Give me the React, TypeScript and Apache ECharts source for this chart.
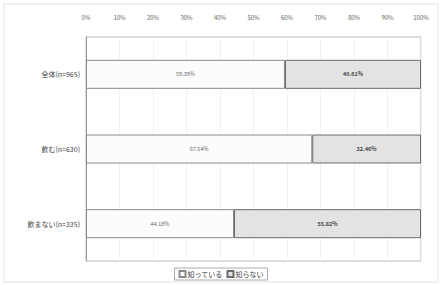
import React, { useEffect, useRef } from "react";
import * as echarts from "echarts";

const categories = ["全体(n=965)", "飲む(n=630)", "飲まない(n=335)"];
const knowValues = [59.39, 67.54, 44.18];
const notKnowValues = [40.61, 32.46, 55.82];
const seriesNames = ["知っている", "知らない"];

export default function App() {
  const ref = useRef<HTMLDivElement>(null);
  useEffect(() => {
    if (!ref.current) return;
    const chart = echarts.init(ref.current, null, { renderer: "svg" });
    const font = "'Noto Sans CJK JP', 'Noto Sans', sans-serif";
    chart.setOption({
      animation: false,
      backgroundColor: "#ffffff",
      textStyle: { fontFamily: font },
      graphic: [
        {
          type: "rect",
          shape: { x: 4, y: 4, width: 434, height: 278 },
          style: { fill: "none", stroke: "#e2e2e2", lineWidth: 1 },
          silent: true,
        },
      ],
      grid: {
        left: 86,
        right: 21,
        top: 37,
        bottom: 24,
        show: true,
        borderColor: "#bbbbbb",
        borderWidth: 1,
      },
      xAxis: {
        type: "value",
        position: "top",
        min: 0,
        max: 100,
        interval: 10,
        axisLabel: {
          formatter: "{value}%",
          fontSize: 6,
          color: "#666",
          margin: 17,
          fontFamily: font,
        },
        axisLine: { show: false },
        axisTick: { show: false },
        splitLine: { show: true, lineStyle: { color: "#f2f2f2", width: 1 } },
      },
      yAxis: {
        type: "category",
        data: categories,
        inverse: true,
        axisLabel: { fontSize: 7, color: "#444", margin: 6, fontFamily: font },
        axisLine: { show: true, lineStyle: { color: "#999" } },
        axisTick: { show: false },
      },
      legend: {
        bottom: 5,
        left: "center",
        icon: "rect",
        itemWidth: 6,
        itemHeight: 6,
        itemGap: 4,
        padding: [2, 4],
        borderColor: "#aaaaaa",
        borderWidth: 1,
        textStyle: { fontSize: 7, color: "#444", fontFamily: font, padding: [0, 0, 0, -3] },
        data: seriesNames,
      },
      series: [
        {
          name: seriesNames[0],
          type: "bar",
          stack: "total",
          barWidth: 29,
          data: knowValues,
          itemStyle: { color: "#fcfcfc", borderColor: "#8a8a8a", borderWidth: 1 },
          label: {
            show: true,
            position: "inside",
            formatter: (p: any) => p.value.toFixed(2) + "%",
            fontSize: 5.5,
            color: "#666",
            fontFamily: font,
          },
        },
        {
          name: seriesNames[1],
          type: "bar",
          stack: "total",
          barWidth: 29,
          data: notKnowValues,
          itemStyle: { color: "#e3e3e3", borderColor: "#6a6a6a", borderWidth: 1 },
          label: {
            show: true,
            position: "inside",
            formatter: (p: any) => p.value.toFixed(2) + "%",
            fontSize: 5.5,
            fontWeight: "bold",
            color: "#444",
            fontFamily: font,
          },
        },
      ],
    });
    return () => chart.dispose();
  }, []);
  return (
    <div
      ref={ref}
      style={{ position: "fixed", left: 0, top: 0, width: 442, height: 285 }}
    />
  );
}
